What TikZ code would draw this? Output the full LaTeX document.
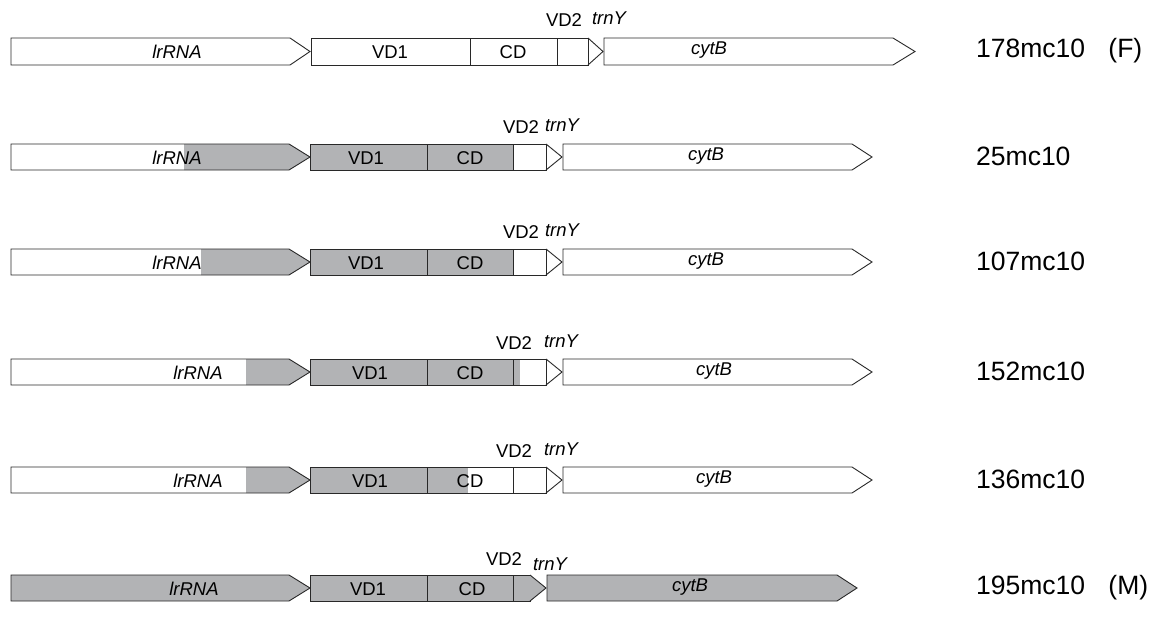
\documentclass[tikz,border=0pt]{standalone}
\usepackage{fontspec}
\setmainfont{Liberation Sans}
\definecolor{genegray}{RGB}{178,179,181}
\definecolor{edge}{RGB}{40,40,40}
\tikzset{
  outl/.style={draw=edge, line width=0.9pt, line join=miter},
  boxtxt/.style={inner sep=0pt, font=\fontsize{18.5}{22}\selectfont},
  lbltxt/.style={inner sep=0pt, anchor=west, font=\fontsize{26.5}{30}\selectfont},
}
% gene arrow: left x, body end, tip, top, bottom
\newcommand{\garrow}[5]{%
  \path[outl] (#1,#4) -- (#2,#4) -- (#3,{(#4+#5)/2}) -- (#2,#5) -- (#1,#5) -- cycle;}
\newcommand{\garrowfill}[5]{%
  \fill[genegray] (#1,#4) -- (#2,#4) -- (#3,{(#4+#5)/2}) -- (#2,#5) -- (#1,#5) -- cycle;}
\newcommand{\trntri}[4]{% x, tip, top, bottom
  \path[outl] (#1,#3) -- (#2,{(#3+#4)/2}) -- (#1,#4);}
\begin{document}
\begin{tikzpicture}[x=1pt,y=-1pt]
\useasboundingbox (0,0) rectangle (1150,641);
\fill[white] (0,0) rectangle (1150,641);

% ---------------- Row 1 : 178mc10 (F)
\garrow{11}{290}{310}{38}{65}
\path[outl] (311,38) rectangle (588,65);
\draw[outl] (470,38) -- (470,65) (557,38) -- (557,65);
\trntri{588}{603}{38}{65}
\garrow{604}{893}{915}{38}{65}
\node[boxtxt] (r1l) at (177,52) {\itshape lrRNA};
\node[boxtxt] (r1v) at (390,52) {VD1};
\node[boxtxt] (r1c) at (513,52) {CD};
\node[boxtxt] (r1b) at (709,50) {\itshape cytB};
\node[boxtxt] (r1v2) at (564,20) {VD2};
\node[boxtxt] (r1t) at (609,18) {\itshape trnY};
\node[lbltxt] (r1n) at (976,51) {178mc10\hspace{0.6em} (F)};

% ---------------- Row 2 : 25mc10
\garrowfill{184}{289}{310}{144}{170}
\garrow{11}{289}{310}{144}{170}
\fill[genegray] (310.5,144) rectangle (513,170);
\path[outl] (310.5,144) rectangle (546,170);
\draw[outl] (427,144) -- (427,170) (513,144) -- (513,170);
\trntri{546}{562}{144}{170}
\garrow{563}{852}{872}{144}{170}
\node[boxtxt] (r2l) at (177,158) {\itshape lrRNA};
\node[boxtxt] (r2v) at (366,158) {VD1};
\node[boxtxt] (r2c) at (470,158) {CD};
\node[boxtxt] (r2b) at (706,156) {\itshape cytB};
\node[boxtxt] (r2v2) at (521,127) {VD2};
\node[boxtxt] (r2t) at (562,125) {\itshape trnY};
\node[lbltxt] (r2n) at (976,156) {25mc10};

% ---------------- Row 3 : 107mc10
\garrowfill{201}{289}{310}{249}{275}
\garrow{11}{289}{310}{249}{275}
\fill[genegray] (310.5,249) rectangle (513,275);
\path[outl] (310.5,249) rectangle (546,275);
\draw[outl] (427,249) -- (427,275) (513,249) -- (513,275);
\trntri{546}{562}{249}{275}
\garrow{563}{852}{872}{249}{275}
\node[boxtxt] (r3l) at (177,263) {\itshape lrRNA};
\node[boxtxt] (r3v) at (366,263) {VD1};
\node[boxtxt] (r3c) at (470,263) {CD};
\node[boxtxt] (r3b) at (706,261) {\itshape cytB};
\node[boxtxt] (r3v2) at (521,232) {VD2};
\node[boxtxt] (r3t) at (562,230) {\itshape trnY};
\node[lbltxt] (r3n) at (976,261) {107mc10};

% ---------------- Row 4 : 152mc10
\garrowfill{246}{289}{310}{359}{385}
\garrow{11}{289}{310}{359}{385}
\fill[genegray] (310.5,359) rectangle (520,385);
\path[outl] (310.5,359) rectangle (546,385);
\draw[outl] (427,359) -- (427,385) (513,359) -- (513,385);
\trntri{546}{562}{359}{385}
\garrow{563}{852}{872}{359}{385}
\node[boxtxt] (r4l) at (198,373) {\itshape lrRNA};
\node[boxtxt] (r4v) at (370,373) {VD1};
\node[boxtxt] (r4c) at (470,373) {CD};
\node[boxtxt] (r4b) at (714,371) {\itshape cytB};
\node[boxtxt] (r4v2) at (514,343) {VD2};
\node[boxtxt] (r4t) at (561,341) {\itshape trnY};
\node[lbltxt] (r4n) at (976,371) {152mc10};

% ---------------- Row 5 : 136mc10
\garrowfill{246}{289}{310}{467}{493}
\garrow{11}{289}{310}{467}{493}
\fill[genegray] (310.5,467) rectangle (468,493);
\path[outl] (310.5,467) rectangle (546,493);
\draw[outl] (427,467) -- (427,493) (513,467) -- (513,493);
\trntri{546}{562}{467}{493}
\garrow{563}{852}{872}{467}{493}
\node[boxtxt] (r5l) at (198,481) {\itshape lrRNA};
\node[boxtxt] (r5v) at (370,481) {VD1};
\node[boxtxt] (r5c) at (470,481) {CD};
\node[boxtxt] (r5b) at (714,479) {\itshape cytB};
\node[boxtxt] (r5v2) at (514,451) {VD2};
\node[boxtxt] (r5t) at (561,449) {\itshape trnY};
\node[lbltxt] (r5n) at (976,479) {136mc10};

% ---------------- Row 6 : 195mc10 (M)
\garrowfill{11}{289}{310}{575}{601}
\garrow{11}{289}{310}{575}{601}
\fill[genegray] (310.5,575) rectangle (530,601);
\path[outl] (310.5,575) rectangle (530,601);
\draw[outl] (427,575) -- (427,601) (513,575) -- (513,601);
\fill[genegray] (530,575) -- (546,588) -- (530,601) -- cycle;
\trntri{530}{546}{575}{601}
\garrowfill{547}{837}{857}{575}{601}
\garrow{547}{837}{857}{575}{601}
\node[boxtxt] (r6l) at (194,589) {\itshape lrRNA};
\node[boxtxt] (r6v) at (368,589) {VD1};
\node[boxtxt] (r6c) at (472,589) {CD};
\node[boxtxt] (r6b) at (690,587) {\itshape cytB};
\node[boxtxt] (r6v2) at (504,559) {VD2};
\node[boxtxt] (r6t) at (550,564) {\itshape trnY};
\node[lbltxt] (r6n) at (976,588) {195mc10\hspace{0.6em} (M)};
\end{tikzpicture}
\end{document}
